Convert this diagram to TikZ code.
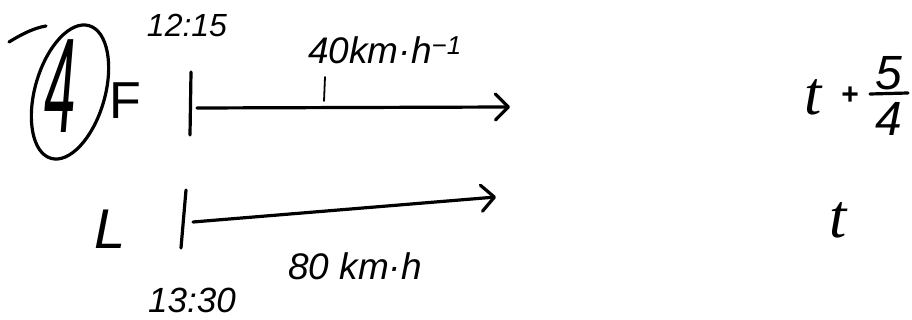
\documentclass[tikz,border=0pt]{standalone}
\usepackage{fontspec}
\setmainfont{Liberation Sans}
\newfontfamily\tfont{Liberation Serif}
\usetikzlibrary{arrows.meta}
\tikzset{
  hand/.style={line width=3.2pt, line cap=round, line join=round, black},
  thin hand/.style={line width=1.8pt, line cap=round},
  harrow/.style={hand, -{Straight Barb[length=13pt,width=26pt,line width=3.2pt,round]}},
  lbl/.style={inner sep=0pt, outer sep=0pt, text=black},
}
\newcommand{\fsz}[1]{\fontsize{#1}{#1}\selectfont}
\begin{document}
\begin{tikzpicture}[x=1pt,y=-1pt]
\useasboundingbox (0,0) rectangle (912,320);
% circled 4
\node[lbl, font=\fsz{135}\itshape] (four) at (60,86) {\scalebox{0.42}[1]{4}};
\draw[hand, rotate around={-16:(70,92)}] (70,92) ellipse [x radius=35, y radius=69];
\coordinate (tailA) at (9,42);
\coordinate (tailB) at (46,26);
\draw[hand] (tailA) .. controls (22,34) and (34,28) .. (tailB);
% labels F and L
\node[lbl, font=\fsz{52}] (F) at (125,101) {F};
\node[lbl, font=\fsz{56}\itshape] (L) at (110,229) {L};
% F row
\coordinate (Ft1) at (191,72);
\coordinate (Ft2) at (190,135);
\draw[hand] (Ft1) -- (Ft2);
\coordinate (Fs) at (197,108);
\coordinate (Fe) at (510,107);
\draw[harrow] (Fs) -- (Fe);
\node[lbl, font=\fsz{32}\itshape] (t1215) at (187,25) {12:15};
\node[lbl, font=\fsz{37}\itshape] (v40) at (385,50) {40km·h\textsuperscript{−1}};
\coordinate (k1) at (325,77);
\coordinate (k2) at (324,101);
\draw[thin hand] (k1) -- (k2);
% L row
\coordinate (Lt1) at (186,190);
\coordinate (Lt2) at (181,248);
\draw[hand] (Lt1) -- (Lt2);
\coordinate (Ls) at (193,222);
\coordinate (Le) at (496,197);
\draw[harrow] (Ls) -- (Le);
\node[lbl, font=\fsz{37}\itshape] (v80) at (355,266) {80 km·h};
\node[lbl, font=\fsz{35}\itshape] (t1330) at (192,300) {13:30};
% right side
\node[lbl, font=\fsz{62}\tfont\itshape] (tF) at (813,97) {t};
\node[lbl, font=\fsz{30}\bfseries] (plus) at (850,96) {+};
\node[lbl, font=\fsz{48}\itshape] (num) at (889,73) {5};
\node[lbl, font=\fsz{48}\itshape] (den) at (889,119) {4};
\coordinate (barL) at (870,94);
\coordinate (barR) at (908,93);
\draw[hand] (barL) -- (barR);
\node[lbl, font=\fsz{62}\tfont\itshape] (tL) at (838,220) {t};
\end{tikzpicture}
\end{document}
